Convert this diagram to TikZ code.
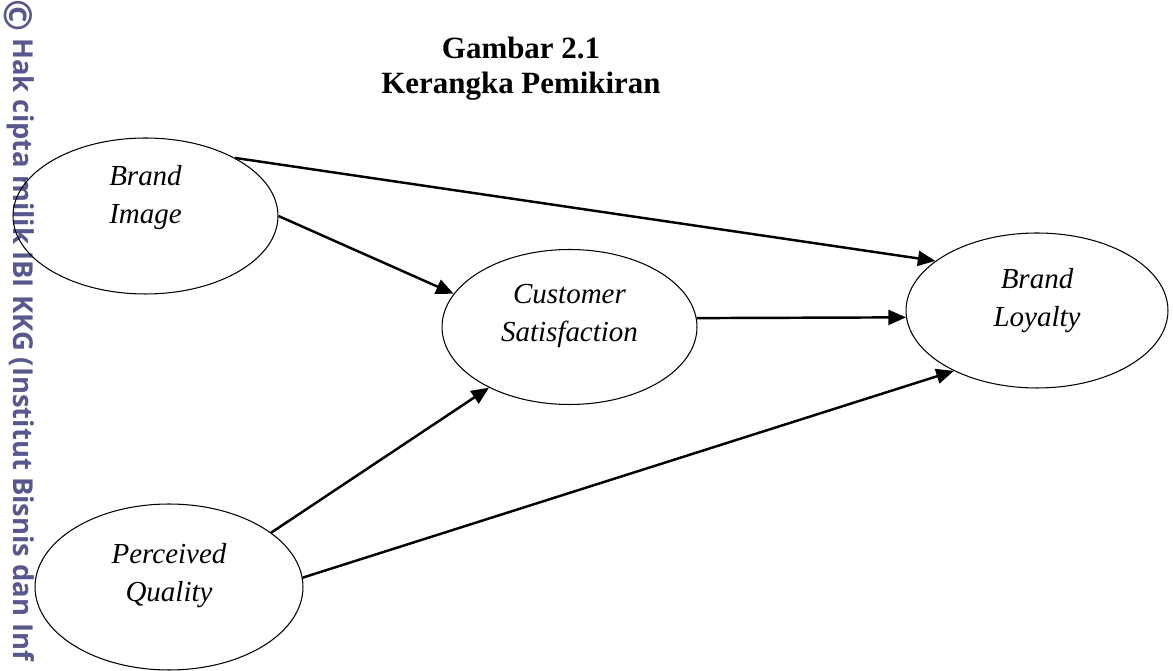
\documentclass[tikz,border=0pt]{standalone}
\usepackage{fontspec}
\setmainfont{Liberation Serif}
\newfontfamily\wmfont{Open Sans}
\usepackage{xcolor}
\usetikzlibrary{arrows.meta}
\usetikzlibrary{shapes.geometric}
\definecolor{wmcolor}{RGB}{88,88,142}

\begin{document}
\begin{tikzpicture}[x=0.02cm, y=-0.02cm,
    var/.style={draw=black, ellipse, line width=0.6pt, inner sep=0pt},
    vartext/.style={align=center, font=\fontsize{16.5}{21.5}\selectfont\itshape},
    link/.style={-{Triangle[length=10pt, width=8.5pt]}, line width=1.4pt},
    wm/.style={text=wmcolor, font=\wmfont\bfseries\fontsize{15.6}{19}\selectfont}]
    \useasboundingbox (0,0) rectangle (1173,671);
    % watermark
    \node[wm, font=\wmfont\bfseries\fontsize{22}{22}\selectfont, rotate=-90, inner sep=0pt] (cpy) at (18,16) {\textcopyright};
    \node[wm, rotate=-90, anchor=base west, inner sep=0pt] (wmtext) at (13,38) {Hak cipta milik IBI KKG (Institut Bisnis dan Inf};
    % title
    \node[font=\fontsize{17.6}{20}\selectfont\bfseries, align=center] (title) at (521,69) {Gambar 2.1\\Kerangka Pemikiran};
    % variables
    \node[var, minimum width=53mm, minimum height=31.2mm] (bi) at (145.5,216) {};
    \node[var, minimum width=51mm, minimum height=31mm] (cs) at (569.5,327) {};
    \node[var, minimum width=52.4mm, minimum height=31mm] (bl) at (1037,310.5) {};
    \node[var, minimum width=53.6mm, minimum height=33.2mm] (pq) at (169,587) {};
    \node[vartext, yshift=10.3pt] (bi-t) at (bi) {Brand\\Image};
    \node[vartext, yshift=6.2pt] (cs-t) at (cs) {Customer\\Satisfaction};
    \node[vartext, yshift=5.8pt] (bl-t) at (bl) {Brand\\Loyalty};
    \node[vartext, yshift=6.7pt] (pq-t) at (pq) {Perceived\\Quality};
    % relations
    \path [link] (bi.33) edge (bl.154);
    \path [link] (bi.0) edge (cs.164);
    \path [link] (cs.4) edge (bl.183);
    \path [link] (pq.28) edge (cs.217);
    \path [link] (pq.4) edge (bl.216);
  \end{tikzpicture}
\end{document}
